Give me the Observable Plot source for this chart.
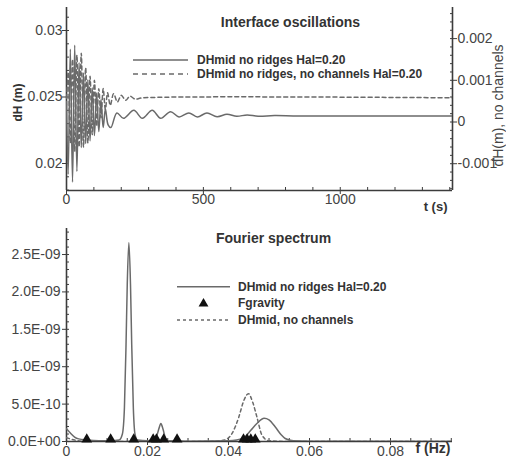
<!DOCTYPE html>
<html><head><meta charset="utf-8">
<script src="https://cdn.jsdelivr.net/npm/d3@7"></script>
<script src="https://cdn.jsdelivr.net/npm/@observablehq/plot@0.6"></script>
<style>
body{margin:0;background:#fff;}
#wrap{position:relative;width:506px;height:464px;overflow:hidden;}
#top,#bot{position:absolute;left:0;}
#top{top:0;}
#bot{top:222px;}
</style></head><body>
<div id="wrap"><div id="top"></div><div id="bot"></div></div>
<script>
// ---------- data: top panel (interface oscillations) ----------
const tSolid  = [0,6,14,22,30,38,46,54,62,70,78,86,94,102,110,118,126,134,142,152,162,184,208,246,277,313,344,380,411,447,478,513,550,586,622,660,700,760,850,1410];
const dhSolid = [0.0245,0.0192,0.0286,0.0186,0.0289,0.0194,0.0276,0.0212,0.0268,0.0215,0.0263,0.0217,0.0257,0.0221,0.0253,0.0224,0.0248,0.0227,0.0241,0.0229,0.0227,0.0238,0.0234,0.0240,0.0234,0.0240,0.0234,0.0239,0.0235,0.0238,0.0235,0.0238,0.02352,0.0237,0.02355,0.02365,0.02355,0.0236,0.02357,0.02357];
// dashed series read on the right-hand axis
const tDashed  = [0,6,14,22,30,38,46,54,62,70,78,86,94,102,110,118,126,134,142,150,160,172,186,200,216,232,250,280,1410];
const dhDashed = [0.0004,0.0012,-0.0005,0.0015,-0.0007,0.0016,-0.0006,0.00165,-0.0006,0.0013,-0.0005,0.0011,-0.0003,0.0010,-0.0001,0.0008,0.0001,0.0008,0.0003,0.0007,0.0004,0.00068,0.00048,0.00064,0.00052,0.00062,0.00055,0.00058,0.00058];
const timeTicks  = [0, 500, 1000];
const leftTicks  = [0.02, 0.025, 0.03];
const rightTicks = [-0.001, 0, 0.001, 0.002];

// ---------- data: bottom panel (Fourier spectrum) ----------
const fSolid   = [0,0.001,0.002,0.003,0.005,0.008,0.011,0.013,0.0138,0.0143,0.0147,0.0150,0.0154,0.0158,0.0161,0.0165,0.0169,0.0175,0.020,0.0215,0.0222,0.0228,0.0233,0.0238,0.0244,0.0250,0.030,0.040,0.042,0.044,0.0455,0.047,0.0488,0.050,0.0516,0.053,0.054,0.056,0.060,0.0953];
const ampSolid = [0.17e-9,0.11e-9,0.06e-9,0.035e-9,0.02e-9,0.01e-9,0.01e-9,0.02e-9,0.10e-9,0.45e-9,1.30e-9,2.10e-9,2.66e-9,2.10e-9,1.30e-9,0.45e-9,0.10e-9,0.02e-9,0.01e-9,0.02e-9,0.06e-9,0.17e-9,0.24e-9,0.17e-9,0.05e-9,0.01e-9,0.005e-9,0.01e-9,0.02e-9,0.06e-9,0.15e-9,0.24e-9,0.31e-9,0.29e-9,0.19e-9,0.09e-9,0.04e-9,0.01e-9,0.005e-9,0];
const fDashed   = [0,0.002,0.005,0.020,0.035,0.039,0.041,0.0425,0.0438,0.0449,0.046,0.047,0.0483,0.050,0.055,0.0953];
const ampDashed = [0.05e-9,0.02e-9,0,0,0,0.02e-9,0.12e-9,0.32e-9,0.55e-9,0.64e-9,0.52e-9,0.33e-9,0.08e-9,0.01e-9,0,0];
const fGravity  = [0.0050,0.0109,0.0166,0.0214,0.0222,0.0240,0.0273,0.0437,0.0446,0.0455,0.0466];
const freqTicks = [0, 0.02, 0.04, 0.06, 0.08];
const ampTicks  = [0, 0.5e-9, 1.0e-9, 1.5e-9, 2.0e-9, 2.5e-9];

// ---------- styling ----------
const FONT = '"Liberation Sans", Arial, Helvetica, sans-serif';
const axisColor = "#3c3c3c";
const lineColor = "#6a6a6a";
const textColor = "#333";

// right axis -> left axis units
const toLeft = r => 0.02312 + 3.1353 * r;

const topSolid  = tSolid.map((t, i) => ({t, v: dhSolid[i]}));
const topDashed = tDashed.map((t, i) => ({t, v: toLeft(dhDashed[i])}));
const botSolid  = fSolid.map((f, i) => ({f, a: ampSolid[i]}));
const botDashed = fDashed.map((f, i) => ({f, a: ampDashed[i]}));

function legendMark(items) {
  return () => {
    const g = d3.create("svg:g").attr("font-family", FONT).attr("font-size", 12).attr("font-weight", "bold")
      .attr("fill", textColor).attr("text-anchor", "start");
    for (const it of items) {
      if (it.kind === "tri") {
        g.append("path").attr("d", d3.symbol(d3.symbolTriangle, 42)()).attr("transform", `translate(${it.x1 + (it.x2 - it.x1) / 2},${it.y + 1})`).attr("fill", "#111");
      } else {
        g.append("line").attr("x1", it.x1).attr("x2", it.x2).attr("y1", it.y).attr("y2", it.y)
          .attr("stroke", lineColor).attr("stroke-width", 1.5).attr("stroke-dasharray", it.dash || null);
      }
      g.append("text").attr("x", it.tx).attr("y", it.y).attr("dy", "0.35em").attr("text-anchor", "start").text(it.label);
    }
    return g.node();
  };
}

const expFmt = v => {
  const [m, e] = v.toExponential(1).split("e");
  return `${m}E${e[0]}${e.slice(1).padStart(2, "0")}`;
};

const commonStyle = {fontFamily: FONT, fontSize: "14px", color: "#444", background: "transparent", overflow: "visible"};

// ---------- top plot ----------
const topPlot = Plot.plot({
  width: 506, height: 222,
  marginLeft: 66, marginRight: 54, marginTop: 7, marginBottom: 32,
  style: commonStyle,
  x: {domain: [0, 1410]},
  y: {domain: [0.01797, 0.03173]},
  marks: [
    Plot.axisX({ticks: d3.range(100, 1401, 100), tickSize: -3, tickFormat: () => "", label: null, stroke: axisColor}),
    Plot.axisX({ticks: timeTicks, tickSize: 4, tickFormat: () => "", label: null, stroke: axisColor}),
    Plot.axisX({ticks: timeTicks, tickSize: 0, tickPadding: 4, tickFormat: d => String(d), label: null}),
    Plot.axisY({ticks: d3.range(0.018, 0.0316, 0.001), tickSize: -3, tickFormat: () => "", label: null, stroke: axisColor}),
    Plot.axisY({ticks: leftTicks, tickSize: 4, tickFormat: () => "", label: null, stroke: axisColor}),
    Plot.axisY({ticks: leftTicks, tickSize: 0, tickPadding: 4, tickFormat: d => String(d), label: null}),
    Plot.axisY({anchor: "right", ticks: d3.range(-0.0016, 0.00271, 0.0002).map(toLeft), tickSize: -3, tickFormat: () => "", label: null, stroke: axisColor}),
    Plot.axisY({anchor: "right", ticks: rightTicks.map(toLeft), tickSize: 4, tickFormat: () => "", label: null, stroke: axisColor}),
    Plot.text(rightTicks, {y: r => toLeft(r), text: r => String(r), frameAnchor: "right", dx: 5, textAnchor: "start", fill: "#444", fontSize: 14}),
    Plot.ruleX([0], {stroke: axisColor, strokeWidth: 1.6}),
    Plot.ruleX([1410], {stroke: axisColor, strokeWidth: 1.6}),
    Plot.ruleY([0.01797], {stroke: axisColor, strokeWidth: 1.6}),
    Plot.line(topDashed, {x: "t", y: "v", stroke: lineColor, strokeWidth: 1.5, strokeDasharray: "4,3", curve: "catmull-rom", clip: true}),
    Plot.line(topSolid, {x: "t", y: "v", stroke: lineColor, strokeWidth: 1.5, curve: "catmull-rom", clip: true}),
    Plot.text(["Interface oscillations"], {frameAnchor: "top-left", dx: 224, dy: 10, textAnchor: "middle", fontWeight: "bold", fontSize: 14, fill: textColor}),
    Plot.text(["dH (m)"], {frameAnchor: "left", dx: -48, dy: 3.5, rotate: -90, textAnchor: "middle", fontWeight: "bold", fontSize: 12, fill: textColor}),
    Plot.text(["dH(m), no channels"], {frameAnchor: "right", dx: 46, dy: 6.5, rotate: -90, textAnchor: "middle", fontSize: 14, fill: "#444"}),
    Plot.text(["t (s)"], {frameAnchor: "bottom-right", dx: -5, dy: 20, textAnchor: "end", fontWeight: "bold", fontSize: 13, fill: textColor}),
    legendMark([
      {x1: 133, x2: 188, y: 60, tx: 197, label: "DHmid no ridges Hal=0.20"},
      {x1: 133, x2: 188, y: 74, tx: 197, dash: "5,4", label: "DHmid no ridges, no channels Hal=0.20"}
    ])
  ]
});
document.getElementById("top").append(topPlot);

// ---------- bottom plot ----------
const botPlot = Plot.plot({
  width: 506, height: 242,
  marginLeft: 66, marginRight: 54, marginTop: 6, marginBottom: 23,
  style: commonStyle,
  x: {domain: [0, 0.0953]},
  y: {domain: [0, 2.848e-9]},
  marks: [
    Plot.axisX({ticks: d3.range(0.005, 0.0951, 0.005), tickSize: -3, tickFormat: () => "", label: null, stroke: axisColor}),
    Plot.axisX({ticks: freqTicks, tickSize: 4, tickFormat: () => "", label: null, stroke: axisColor}),
    Plot.axisX({ticks: freqTicks, tickSize: 0, tickPadding: 5, tickFormat: d => String(d), label: null}),
    Plot.axisY({ticks: d3.range(0, 2.81e-9, 1e-10), tickSize: -3, tickFormat: () => "", label: null, stroke: axisColor}),
    Plot.axisY({ticks: ampTicks, tickSize: 4, tickFormat: () => "", label: null, stroke: axisColor}),
    Plot.axisY({ticks: ampTicks, tickSize: 0, tickPadding: 6, tickFormat: expFmt, label: null}),
    Plot.ruleX([0], {stroke: axisColor, strokeWidth: 1.6}),
    Plot.ruleY([0], {stroke: axisColor, strokeWidth: 1.6}),
    Plot.line(botDashed, {x: "f", y: "a", stroke: lineColor, strokeWidth: 1.5, strokeDasharray: "3,3", curve: "monotone-x", clip: true}),
    Plot.line(botSolid, {x: "f", y: "a", stroke: lineColor, strokeWidth: 1.5, curve: "monotone-x", clip: true}),
    Plot.dot(fGravity, {x: d => d, y: 0, symbol: "triangle", r: 4, fill: "#111", stroke: "none", dy: -2}),
    Plot.text(["Fourier spectrum"], {frameAnchor: "top-left", dx: 207, dy: 5, textAnchor: "middle", fontWeight: "bold", fontSize: 14, fill: textColor}),
    Plot.text(["f (Hz)"], {frameAnchor: "bottom-right", dx: -2, dy: 11, textAnchor: "end", fontWeight: "bold", fontSize: 14, fill: textColor}),
    legendMark([
      {x1: 177, x2: 230, y: 64.7, tx: 238, label: "DHmid no ridges Hal=0.20"},
      {x1: 177, x2: 230, y: 80.7, tx: 238, kind: "tri", label: "Fgravity"},
      {x1: 177, x2: 230, y: 98, tx: 238, dash: "3,3", label: "DHmid, no channels"}
    ])
  ]
});
document.getElementById("bot").append(botPlot);
</script>
</body></html>
